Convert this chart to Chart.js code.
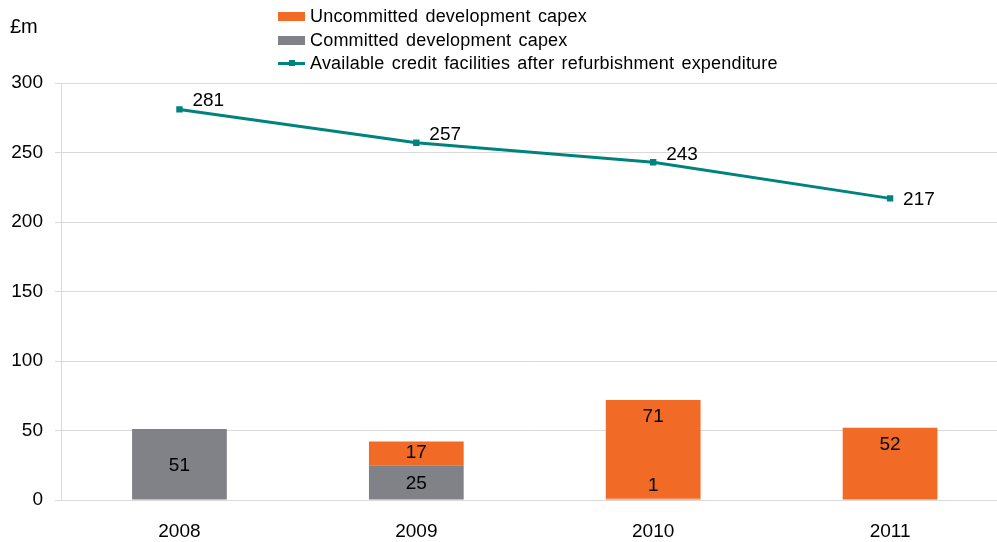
<!DOCTYPE html>
<html>
<head>
<meta charset="utf-8">
<script src="https://cdn.jsdelivr.net/npm/chart.js@4/dist/chart.umd.min.js"></script>
<style>
  html, body { margin: 0; padding: 0; width: 997px; height: 542px; overflow: hidden; background: #fff; }
  #wrap { position: relative; width: 1013px; height: 542px; }
  canvas { position: absolute; left: 0; top: 0; }
  .txt { position: absolute; font-family: "Liberation Sans", Arial, sans-serif; color: #000; white-space: nowrap; }
  #unit { left: 10px; top: 15px; font-size: 20px; }
  .leg { position: absolute; left: 278px; height: 22px; font-family: "Liberation Sans", Arial, sans-serif; font-size: 18px; letter-spacing: 0.2px; word-spacing: 2px; line-height: 22px; white-space: nowrap; }
  .sw { position: absolute; left: 0; top: 7px; width: 27px; height: 9px; }
  .ln { position: absolute; left: 0; top: 10px; width: 27px; height: 3px; background: #00827F; }
  .dot { position: absolute; left: 11px; top: 8px; width: 6px; height: 6px; background: #00827F; }
  .lt { position: absolute; left: 32px; top: 0; }
</style>
</head>
<body>
<div id="wrap">
  <canvas id="c" width="1013" height="542"></canvas>
  <div id="unit" class="txt">£m</div>
  <div class="leg" style="top:5px"><div class="sw" style="background:#F26B26"></div><span class="lt">Uncommitted development capex</span></div>
  <div class="leg" style="top:29px"><div class="sw" style="background:#808288"></div><span class="lt">Committed development capex</span></div>
  <div class="leg" style="top:52px"><div class="ln"></div><div class="dot"></div><span class="lt">Available credit facilities after refurbishment expenditure</span></div>
</div>
<script>
const categories = ['2008', '2009', '2010', '2011'];
const committedCapex = [51, 25, 1, 0];
const uncommittedCapex = [0, 17, 71, 52];
const creditFacilities = [281, 257, 243, 217];
const yTicks = [0, 50, 100, 150, 200, 250, 300];

const ORANGE = '#F26B26';
const GREY = '#808288';
const TEAL = '#00827F';
const FONT = '"Liberation Sans", Arial, sans-serif';

const labelPlugin = {
  id: 'valueLabels',
  afterDatasetsDraw(chart) {
    const ctx = chart.ctx;
    ctx.save();
    ctx.font = '19px ' + FONT;
    ctx.fillStyle = '#000';
    ctx.textBaseline = 'middle';
    [0, 1].forEach(di => {
      const meta = chart.getDatasetMeta(di);
      const data = chart.data.datasets[di].data;
      meta.data.forEach((el, i) => {
        const v = data[i];
        if (!v) return;
        const top = Math.min(el.y, el.base);
        const bot = Math.max(el.y, el.base);
        const h = bot - top;
        let y;
        if (di === 0) {
          y = h < 24 ? bot - 14 : (top + bot) / 2 + 1;
        } else {
          y = h > 30 ? top + 17 : (top + bot) / 2 - 1;
        }
        ctx.textAlign = 'center';
        ctx.fillText(String(v), el.x, y);
      });
    });
    const lm = chart.getDatasetMeta(2);
    const ld = chart.data.datasets[2].data;
    const yOff = [-9, -8, -7, 1];
    lm.data.forEach((el, i) => {
      ctx.textAlign = 'left';
      ctx.fillText(String(ld[i]), el.x + 13, el.y + yOff[i]);
    });
    ctx.restore();
  }
};

new Chart(document.getElementById('c'), {
  type: 'bar',
  data: {
    labels: categories,
    datasets: [
      {
        label: 'Committed development capex',
        data: committedCapex,
        backgroundColor: [GREY, GREY, ORANGE, GREY],
        stack: 'capex',
        order: 1,
        barPercentage: 0.4,
        categoryPercentage: 1.0
      },
      {
        label: 'Uncommitted development capex',
        data: uncommittedCapex,
        backgroundColor: ORANGE,
        stack: 'capex',
        order: 1,
        barPercentage: 0.4,
        categoryPercentage: 1.0
      },
      {
        type: 'line',
        label: 'Available credit facilities after refurbishment expenditure',
        data: creditFacilities,
        borderColor: TEAL,
        backgroundColor: TEAL,
        borderWidth: 3,
        pointStyle: 'rect',
        pointRadius: 4.5,
        pointBorderWidth: 0,
        tension: 0,
        stack: 'line',
        order: 0
      }
    ]
  },
  options: {
    responsive: false,
    animation: false,
    events: [],
    layout: { padding: { top: 83, right: 0, bottom: 0, left: 0 } },
    plugins: { legend: { display: false }, tooltip: { enabled: false } },
    scales: {
      x: {
        stacked: true,
        grid: { display: false },
        border: { display: true, color: '#D9D9D9', width: 1 },
        ticks: { color: '#000', font: { family: FONT, size: 19 }, padding: 12, maxRotation: 0 },
        afterFit(s) { s.height = 42; }
      },
      y: {
        stacked: true,
        min: 0,
        max: 300,
        afterBuildTicks(s) { s.ticks = yTicks.map(v => ({ value: v })); },
        grid: { color: '#D9D9D9', lineWidth: 1, tickLength: 6, drawTicks: true },
        border: { display: true, color: '#D9D9D9', width: 1 },
        ticks: { color: '#000', font: { family: FONT, size: 19 }, padding: 12 },
        afterFit(s) { s.width = 61; }
      }
    }
  },
  plugins: [labelPlugin]
});
</script>
</body>
</html>
